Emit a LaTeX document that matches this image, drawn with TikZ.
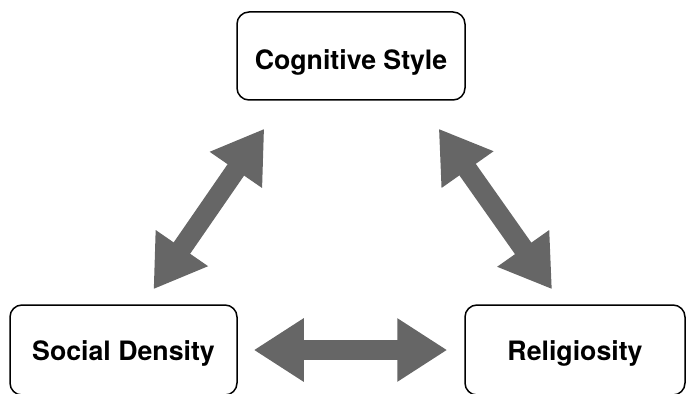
\documentclass[tikz,border=0pt]{standalone}
\usepackage{fontspec}
\setmainfont{TeX Gyre Heros}
\usepackage{tikz}
\usetikzlibrary{arrows.meta}
\usetikzlibrary{positioning}
\tikzset{box/.style = {draw, line width=1.5pt, rounded corners=12pt,
                       minimum width=228pt, inner sep=0,
                       text height=25pt, text depth=5pt,
                       font=\fontsize{26.7}{30}\selectfont\bfseries}}
\tikzset{fat/.style = {draw=arrowgray, line width=20pt,
                       arrows={Triangle[width=60pt,length=50pt,fill=arrowgray]-Triangle[width=60pt,length=50pt,fill=arrowgray]}}}
\definecolor{arrowgray}{HTML}{666666}

\begin{document}
\begin{tikzpicture}[x=1pt, y=-1pt]
      \useasboundingbox (0, 0) rectangle (687, 393);

      \node [box, minimum height=88pt, text height=28pt, text depth=0pt] (cs) at (351, 56) {Cognitive Style};
      \node [box, minimum height=90pt, minimum width=227pt] (sd) at (123.5, 350) {Social Density};
      \node [box, minimum height=90pt, minimum width=220pt] (rl) at (575, 350) {Religiosity};

      \draw [fat] ([xshift=30pt, yshift=15pt]sd.north) -- ([xshift=28pt, yshift=-28pt]cs.south west);
      \draw [fat] ([xshift=-27pt, yshift=-28pt]cs.south east) -- ([xshift=-23pt, yshift=15pt]rl.north);
      \draw [fat] ([xshift=16pt]sd.east) -- ([xshift=-17pt]rl.west);
\end{tikzpicture}
\end{document}
